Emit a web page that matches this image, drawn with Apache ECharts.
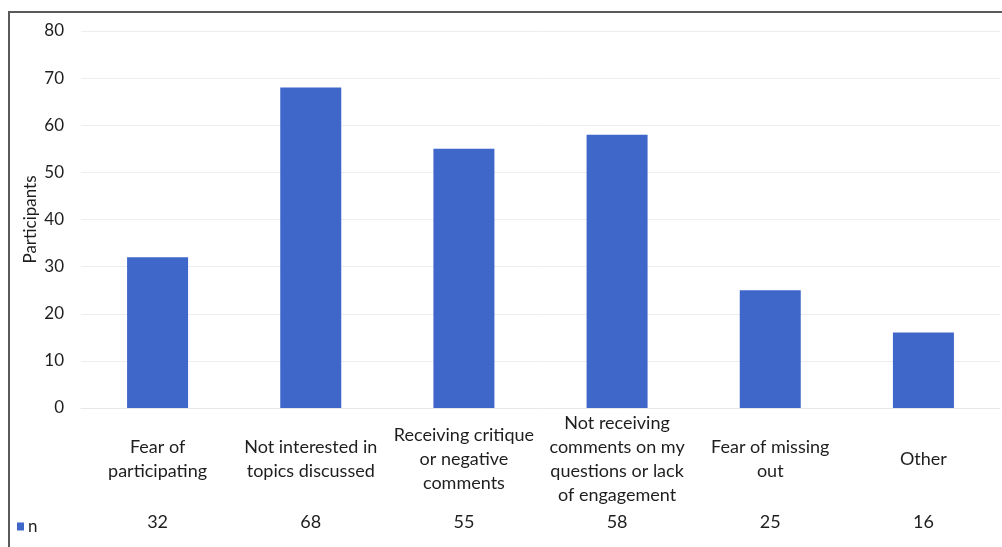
<!DOCTYPE html>
<html>
<head>
<meta charset="utf-8">
<script src="https://cdn.jsdelivr.net/npm/echarts@6/dist/echarts.min.js"></script>
<style>
  html, body { margin: 0; padding: 0; background: #fff; }
  #chart { width: 1002px; height: 547px; }
</style>
</head>
<body>
<div id="chart"></div>
<script>
// Reasons for not participating, with the data table row below the axis
const categories = [
  'Fear of\nparticipating',
  'Not interested in\ntopics discussed',
  'Receiving critique\nor negative\ncomments',
  'Not receiving\ncomments on my\nquestions or lack\nof engagement',
  'Fear of missing\nout',
  'Other'
];
const counts = [32, 68, 55, 58, 25, 16];
const yTicks = { min: 0, max: 80, interval: 10 };
const seriesName = 'n';
const axisTitle = 'Participants';

const FONT = 'Lato, "Liberation Sans", sans-serif';
const TEXT = '#1e1e1e';
const BAR = '#3F66C9';

const chart = echarts.init(document.getElementById('chart'));
chart.setOption({
  animation: false,
  textStyle: { fontFamily: FONT },
  grid: { left: 81, right: 2, top: 31, bottom: 547 - 408, containLabel: false },
  legend: {
    data: [seriesName],
    left: 12, top: 513,
    icon: 'rect', itemWidth: 7, itemHeight: 8, itemGap: 4,
    textStyle: { fontFamily: FONT, fontSize: 17, color: TEXT, padding: [0, 0, 0, -1] }
  },
  xAxis: [
    {
      type: 'category',
      data: categories,
      axisLine: { show: true, lineStyle: { color: '#e8e8e8', width: 1 } },
      axisTick: { show: false },
      axisLabel: {
        interval: 0,
        margin: 51,
        verticalAlign: 'middle',
        lineHeight: 24,
        fontSize: 18,
        color: TEXT,
        fontFamily: FONT
      }
    },
    {
      // data table row: one value per category
      type: 'category',
      position: 'bottom',
      data: counts.map(String),
      axisLine: { show: false },
      axisTick: { show: false },
      axisLabel: {
        interval: 0,
        margin: 114,
        verticalAlign: 'middle',
        fontSize: 18,
        color: TEXT,
        fontFamily: FONT
      }
    }
  ],
  yAxis: {
    type: 'value',
    min: yTicks.min, max: yTicks.max, interval: yTicks.interval,
    name: axisTitle,
    nameLocation: 'middle',
    nameGap: 42,
    nameMoveOverlap: false,
    nameTextStyle: { fontSize: 17, color: TEXT, fontFamily: FONT },
    axisLine: { show: false },
    axisTick: { show: false },
    axisLabel: { margin: 17, fontSize: 17, color: TEXT, fontFamily: FONT },
    splitLine: { show: true, lineStyle: { color: '#ededed', width: 1 } }
  },
  series: [{
    name: seriesName,
    type: 'bar',
    xAxisIndex: 0,
    data: counts,
    barWidth: 61,
    itemStyle: { color: BAR }
  }],
  graphic: [
    {
      // frame around the figure (top and left edges visible)
      type: 'rect',
      shape: { x: 9, y: 12, width: 1100, height: 700 },
      style: { fill: 'none', stroke: '#5a5a5a', lineWidth: 2 },
      silent: true
    }
  ]
});
</script>
</body>
</html>
